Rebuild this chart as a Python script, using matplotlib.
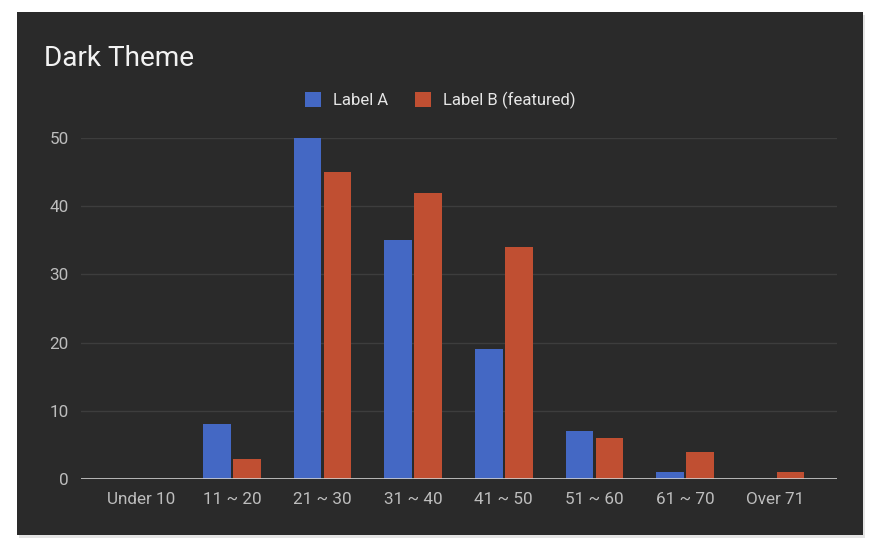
import matplotlib
matplotlib.use("Agg")
import matplotlib.pyplot as plt
from matplotlib.patches import Rectangle
import numpy as np

# data
categories = ["Under 10", "11 ~ 20", "21 ~ 30", "31 ~ 40", "41 ~ 50", "51 ~ 60", "61 ~ 70", "Over 71"]
label_a = [0, 8, 50, 35, 19, 7, 1, 0]
label_b = [0, 3, 45, 42, 34, 6, 4, 1]
y_ticks = [0, 10, 20, 30, 40, 50]

BG = "#2a2a2a"
BLUE = "#4468c4"
RED = "#c04f32"

plt.rcParams['font.family'] = ['Roboto', 'DejaVu Sans']

fig = plt.figure(figsize=(8.8, 5.57), dpi=100)
fig.patch.set_facecolor("white")

# shadow + dark card, kept behind the axes
fig.add_artist(Rectangle((19 / 880, 1 - 538 / 557), 846 / 880, 523 / 557,
                         transform=fig.transFigure, facecolor="#e4e4e4",
                         edgecolor="none", zorder=-10))
fig.add_artist(Rectangle((17 / 880, 1 - 535 / 557), 846 / 880, 523 / 557,
                         transform=fig.transFigure, facecolor=BG,
                         edgecolor="none", zorder=-9))

ax = fig.add_axes([81 / 880, 1 - 479 / 557, (837 - 81) / 880, (479 - 138) / 557])
ax.set_facecolor("none")

x = np.arange(len(categories))
w = 0.305
off = 0.166
ax.bar(x - off, label_a, width=w, color=BLUE, label="Label A", zorder=3)
ax.bar(x + off, label_b, width=w, color=RED, label="Label B (featured)", zorder=3)

ax.set_xlim(-0.667, 7.678)
ax.set_ylim(0, 50)
ax.set_yticks(y_ticks)
ax.set_xticks(x)
ax.set_xticklabels(categories)
ax.grid(axis="y", color="#3d3d3d", linewidth=1, zorder=0)
ax.axhline(0, color="#cfcfcf", linewidth=1.2, zorder=4)

for s in ax.spines.values():
    s.set_visible(False)
ax.tick_params(axis="both", length=0, labelsize=12.3, labelcolor="#bdbdbd")
ax.tick_params(axis="x", pad=9.5)
ax.tick_params(axis="y", pad=9)

fig.text(44 / 880, 1 - 66 / 557, "Dark Theme", fontsize=20.2, color="#f2f2f2",
         va="baseline", ha="left")

leg = ax.legend(loc="center", bbox_to_anchor=(440 / 880, 1 - 100 / 557),
                bbox_transform=fig.transFigure, ncol=2, frameon=False,
                fontsize=12, handlelength=1.0, handleheight=1.0,
                handletextpad=0.7, columnspacing=1.6)
for t in leg.get_texts():
    t.set_color("#e6e6e6")

fig.savefig("out.png", dpi=100, facecolor=fig.get_facecolor())
